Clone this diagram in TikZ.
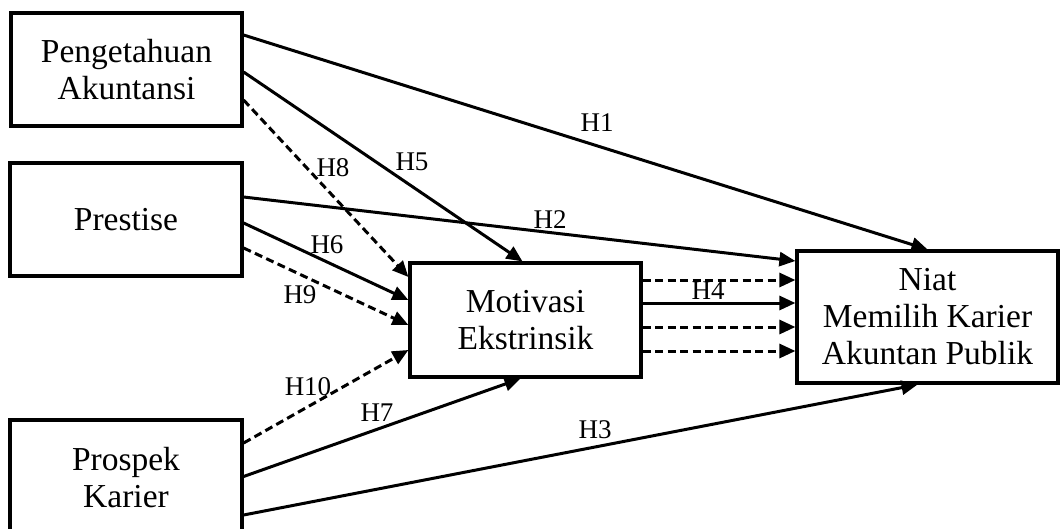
\documentclass[tikz,border=0pt]{standalone}
\usepackage{fontspec}
\setmainfont{Liberation Serif}
\usetikzlibrary{arrows.meta}
\begin{document}
\begin{tikzpicture}[x=1pt,y=-1pt,
  box/.style={draw,line width=3.2pt,rectangle,inner sep=0pt,align=center,
    font=\fontsize{33.5}{37}\selectfont},
  lbl/.style={inner sep=0pt,font=\fontsize{27}{29}\selectfont},
  arr/.style={line width=3pt,-{Triangle[length=16pt,width=14pt]}},
  dsh/.style={arr,dash pattern=on 8pt off 4.5pt}]
\useasboundingbox (0,0) rectangle (1060,528);
\node[box,minimum width=231pt,minimum height=113pt] (pa) at (126.5,69.5) {Pengetahuan\\Akuntansi};
\node[box,minimum width=232pt,minimum height=113pt] (pr) at (126,219.5) {Prestise};
\node[box,minimum width=232pt,minimum height=113pt] (pk) at (126,476.5) {};
\node[align=center,inner sep=0pt,font=\fontsize{33.5}{37}\selectfont] (pkt) at (126,478) {Prospek\\Karier};
\node[box,minimum width=231pt,minimum height=114pt] (mo) at (525.5,320) {Motivasi\\Ekstrinsik};
\node[box,minimum width=261pt,minimum height=132pt] (ni) at (927.5,317) {Niat\\Memilih Karier\\Akuntan Publik};
% Pengetahuan
\draw[arr] ([yshift=34.5pt]pa.east) -- (ni.north);
\draw[arr] ([yshift=-2.5pt]pa.east) -- ([xshift=-3pt]mo.north);
\draw[dsh] ([yshift=-30.5pt]pa.east) -- ([yshift=43pt]mo.west);
% Prestise
\draw[arr] ([yshift=22.5pt]pr.east) -- ([yshift=56pt]ni.west);
\draw[arr] ([yshift=-3.5pt]pr.east) -- ([yshift=20pt]mo.west);
\draw[dsh] ([yshift=-28.5pt]pr.east) -- ([yshift=-5pt]mo.west);
% Prospek
\draw[dsh] ([yshift=33.5pt]pk.east) -- ([yshift=-30pt]mo.west);
\draw[arr] (pk.east) -- ([xshift=-5pt]mo.south);
\draw[arr] ([yshift=-38.5pt]pk.east) -- ([xshift=-10pt]ni.south);
% Motivasi -> Niat
\draw[dsh] ([yshift=40pt]mo.east) -- ([yshift=37pt]ni.west);
\draw[arr] ([yshift=17pt]mo.east) -- ([yshift=14pt]ni.west);
\draw[dsh] ([yshift=-7pt]mo.east) -- ([yshift=-10pt]ni.west);
\draw[dsh] ([yshift=-31pt]mo.east) -- ([yshift=-34pt]ni.west);
% labels
\node[lbl] (h1) at (597,123) {H1};
\node[lbl] (h2) at (550,220) {H2};
\node[lbl] (h3) at (595,430) {H3};
\node[lbl,anchor=base] (h4) at (708,299) {H4};
\node[lbl] (h5) at (412,162) {H5};
\node[lbl] (h6) at (327,245) {H6};
\node[lbl] (h7) at (377,413) {H7};
\node[lbl] (h8) at (333,168) {H8};
\node[lbl] (h9) at (300,295) {H9};
\node[lbl] (h10) at (308,387) {H10};
\end{tikzpicture}
\end{document}
